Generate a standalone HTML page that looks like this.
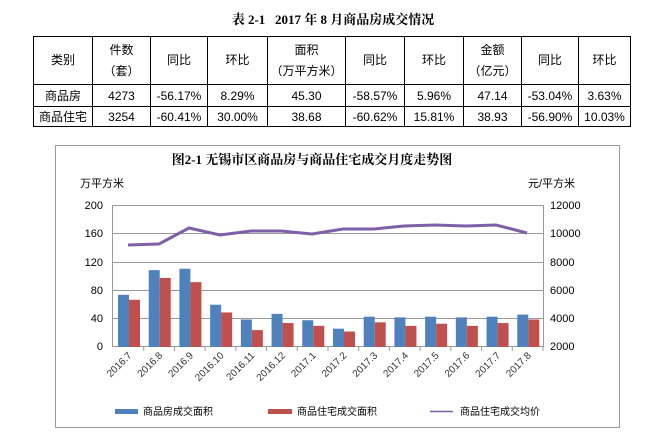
<!DOCTYPE html>
<html><head><meta charset="utf-8"><style>
body{margin:0;width:666px;height:436px;background:#fff;position:relative;overflow:hidden;font-family:"Liberation Sans","Noto Sans CJK SC",sans-serif;}
.t{position:absolute;left:0;width:666px;top:9px;text-align:center;font-size:13px;font-weight:bold;font-family:"Liberation Serif","Noto Serif CJK SC",serif;}
table{position:absolute;left:33px;top:36px;border-collapse:collapse;font-size:12px;}
td{border:1px solid #000;text-align:center;padding:0;line-height:16px;}
tr.h td{line-height:21px;}
</style></head><body>
<div class="t">表 2-1&nbsp;&nbsp;&nbsp;2017 年 8 月商品房成交情况</div>
<table>
<tr class="h" style="height:48px"><td style="width:58px">类别</td><td style="width:57px">件数<br>（套）</td><td style="width:56px">同比</td><td style="width:59px">环比</td><td style="width:77px">面积<br>（万平方米）</td><td style="width:58px">同比</td><td style="width:58px">环比</td><td style="width:57px">金额<br>（亿元）</td><td style="width:56px">同比</td><td style="width:51px">环比</td></tr>
<tr style="height:22px"><td>商品房</td><td>4273</td><td>-56.17%</td><td>8.29%</td><td>45.30</td><td>-58.57%</td><td>5.96%</td><td>47.14</td><td>-53.04%</td><td>3.63%</td></tr>
<tr style="height:20px"><td>商品住宅</td><td>3254</td><td>-60.41%</td><td>30.00%</td><td>38.68</td><td>-60.62%</td><td>15.81%</td><td>38.93</td><td>-56.90%</td><td>10.03%</td></tr>
</table>
<svg width="666" height="436" style="position:absolute;left:0;top:0" font-family="Liberation Sans,Noto Sans CJK SC,sans-serif">
<rect x="55.5" y="145.5" width="564" height="282" fill="none" stroke="#999"/>
<text x="312" y="164" font-size="13" font-weight="bold" text-anchor="middle" font-family="Liberation Serif,Noto Serif CJK SC,serif">图2-1 无锡市区商品房与商品住宅成交月度走势图</text>
<text x="80" y="187" font-size="11">万平方米</text>
<text x="528" y="187" font-size="11">元/平方米</text>
<g stroke="#999" stroke-width="1">
<line x1="113" y1="205.5" x2="543" y2="205.5"/><line x1="113" y1="233.5" x2="543" y2="233.5"/><line x1="113" y1="262.5" x2="543" y2="262.5"/><line x1="113" y1="290.5" x2="543" y2="290.5"/><line x1="113" y1="318.5" x2="543" y2="318.5"/><line x1="113" y1="346.5" x2="543" y2="346.5"/>
<line x1="112.5" y1="205" x2="112.5" y2="347"/><line x1="543.5" y1="205" x2="543.5" y2="347"/>
</g>
<g font-size="11" text-anchor="end"><text x="103" y="209">200</text><text x="103" y="237">160</text><text x="103" y="266">120</text><text x="103" y="294">80</text><text x="103" y="322">40</text><text x="103" y="350">0</text></g>
<g font-size="11"><text x="550" y="209">12000</text><text x="550" y="237">10000</text><text x="550" y="266">8000</text><text x="550" y="294">6000</text><text x="550" y="322">4000</text><text x="550" y="350">2000</text></g>
<g id="bars"></g>
<polyline fill="none" stroke="#7F5FA8" stroke-width="3" points="128,245 159,244 189,228 220,235 251,231 281,231 312,234 343,229 374,229 404,226 435,225 466,226 496,225 527,233"/>
<g id="xl" font-size="10" fill="#333"></g>
<rect x="115" y="409" width="23" height="5" fill="#4F81BD"/><text x="143" y="415" font-size="10">商品房成交面积</text>
<rect x="268" y="409" width="24" height="5" fill="#C0504D"/><text x="297" y="415" font-size="10">商品住宅成交面积</text>
<line x1="430" y1="411.5" x2="453" y2="411.5" stroke="#7F5FA8" stroke-width="1.5"/><text x="460" y="415" font-size="10">商品住宅成交均价</text>
</svg>
<script>
var b=[74,109,111,60,39,47,38,26,43,42,43,42,43,46],r=[67,98,92,49,24,34,30,22,35,30,33,30,34,39];
var l=["2016.7","2016.8","2016.9","2016.10","2016.11","2016.12","2017.1","2017.2","2017.3","2017.4","2017.5","2017.6","2017.7","2017.8"];
var s="",x="",w=430/14,k=141/200;
for(var i=0;i<14;i++){var x0=113+i*w;
s+='<rect x="'+(x0+5)+'" y="'+(347-b[i]*k)+'" width="11" height="'+(b[i]*k)+'" fill="#4F81BD"/>';
s+='<rect x="'+(x0+16)+'" y="'+(347-r[i]*k)+'" width="11" height="'+(r[i]*k)+'" fill="#C0504D"/>';
s+='<line x1="'+(x0+w)+'" y1="347" x2="'+(x0+w)+'" y2="351" stroke="#999"/>';
var cx=x0+w/2+4;x+='<text x="'+cx+'" y="356" text-anchor="end" transform="rotate(-45 '+cx+' 356)">'+l[i]+'</text>';}
document.getElementById("bars").innerHTML=s;document.getElementById("xl").innerHTML=x;
</script>
</body></html>
